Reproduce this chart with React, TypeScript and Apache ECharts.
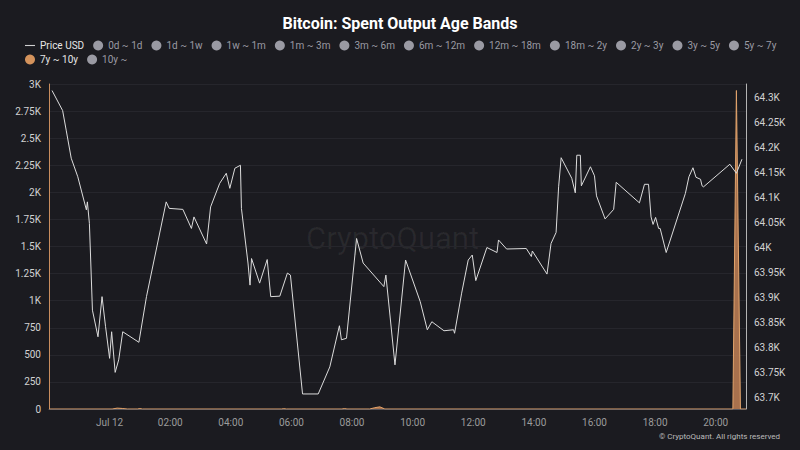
import React, { useEffect, useRef } from "react";
import * as echarts from "echarts";

const TITLE = "Bitcoin: Spent Output Age Bands";
const CREDIT = "© CryptoQuant. All rights reserved";
const WATERMARK = "CryptoQuant";

const bandNames = [
  "0d ~ 1d", "1d ~ 1w", "1w ~ 1m", "1m ~ 3m", "3m ~ 6m", "6m ~ 12m",
  "12m ~ 18m", "18m ~ 2y", "2y ~ 3y", "3y ~ 5y", "5y ~ 7y", "7y ~ 10y", "10y ~",
];
const visibleBand = "7y ~ 10y";

const priceTimes = [
  "2024-07-11 22:06", "2024-07-11 22:27", "2024-07-11 22:34", "2024-07-11 22:44", "2024-07-11 22:57",
  "2024-07-11 23:14", "2024-07-11 23:16", "2024-07-11 23:20", "2024-07-11 23:26", "2024-07-11 23:37",
  "2024-07-11 23:45", "2024-07-11 23:52", "2024-07-12 00:00", "2024-07-12 00:04", "2024-07-12 00:11",
  "2024-07-12 00:18", "2024-07-12 00:26", "2024-07-12 00:58", "2024-07-12 01:13", "2024-07-12 01:52",
  "2024-07-12 01:58", "2024-07-12 02:25", "2024-07-12 02:42", "2024-07-12 02:47", "2024-07-12 03:12",
  "2024-07-12 03:20", "2024-07-12 03:38", "2024-07-12 03:51", "2024-07-12 03:58", "2024-07-12 04:08",
  "2024-07-12 04:19", "2024-07-12 04:21", "2024-07-12 04:34", "2024-07-12 04:38", "2024-07-12 04:41",
  "2024-07-12 04:57", "2024-07-12 05:12", "2024-07-12 05:19", "2024-07-12 05:37", "2024-07-12 05:52",
  "2024-07-12 05:58", "2024-07-12 06:22", "2024-07-12 06:53", "2024-07-12 07:16", "2024-07-12 07:35",
  "2024-07-12 07:39", "2024-07-12 07:49", "2024-07-12 08:09", "2024-07-12 08:22", "2024-07-12 09:03",
  "2024-07-12 09:07", "2024-07-12 09:25", "2024-07-12 09:46", "2024-07-12 10:15", "2024-07-12 10:29",
  "2024-07-12 10:38", "2024-07-12 11:02", "2024-07-12 11:21", "2024-07-12 11:23", "2024-07-12 11:37",
  "2024-07-12 11:50", "2024-07-12 11:58", "2024-07-12 12:05", "2024-07-12 12:27", "2024-07-12 12:47",
  "2024-07-12 12:50", "2024-07-12 13:06", "2024-07-12 13:45", "2024-07-12 13:55", "2024-07-12 13:57",
  "2024-07-12 14:26", "2024-07-12 14:34", "2024-07-12 14:44", "2024-07-12 14:49", "2024-07-12 14:54",
  "2024-07-12 15:15", "2024-07-12 15:22", "2024-07-12 15:25", "2024-07-12 15:32", "2024-07-12 15:34",
  "2024-07-12 15:52", "2024-07-12 16:00", "2024-07-12 16:04", "2024-07-12 16:21", "2024-07-12 16:38",
  "2024-07-12 16:43", "2024-07-12 17:29", "2024-07-12 17:39", "2024-07-12 17:47", "2024-07-12 17:52",
  "2024-07-12 17:56", "2024-07-12 18:01", "2024-07-12 18:07", "2024-07-12 18:10", "2024-07-12 18:22",
  "2024-07-12 19:00", "2024-07-12 19:07", "2024-07-12 19:15", "2024-07-12 19:21", "2024-07-12 19:30",
  "2024-07-12 19:33", "2024-07-12 19:36", "2024-07-12 20:28", "2024-07-12 20:41", "2024-07-12 20:52",
];
const priceValues = [
  64313, 64273, 64234, 64178, 64141,
  64075, 64091, 64048, 63875, 63822,
  63902, 63842, 63779, 63832, 63751,
  63776, 63832, 63811, 63902, 64091,
  64078, 64076, 64038, 64061, 64007,
  64081, 64128, 64148, 64118, 64158,
  64164, 64078, 63969, 63925, 63978,
  63929, 63976, 63902, 63903, 63949,
  63945, 63708, 63708, 63762, 63844,
  63816, 63819, 64018, 63969, 63922,
  63945, 63766, 63975, 63892, 63836,
  63852, 63834, 63836, 63829, 63909,
  63975, 63985, 63934, 64000, 63990,
  64015, 63997, 63998, 63982, 63993,
  63947, 64008, 64030, 64121, 64179,
  64138, 64109, 64184, 64184, 64123,
  64161, 64143, 64103, 64057, 64076,
  64130, 64089, 64126, 64126, 64061,
  64046, 64060, 64038, 64038, 63990,
  64108, 64141, 64159, 64140, 64136,
  64123, 64121, 64166, 64148, 64176,
];

const bandTimes = [
  "2024-07-11 22:00", "2024-07-12 00:05", "2024-07-12 00:15", "2024-07-12 00:25", "2024-07-12 00:35",
  "2024-07-12 00:55", "2024-07-12 01:00", "2024-07-12 01:05", "2024-07-12 05:40", "2024-07-12 05:45",
  "2024-07-12 05:50", "2024-07-12 07:40", "2024-07-12 07:45", "2024-07-12 07:50", "2024-07-12 08:35",
  "2024-07-12 08:45", "2024-07-12 08:55", "2024-07-12 09:05", "2024-07-12 20:34", "2024-07-12 20:41",
  "2024-07-12 20:49", "2024-07-12 21:00",
];
const bandValues = [
  0, 0, 8, 5, 0,
  0, 4, 0, 0, 3,
  0, 0, 4, 0, 0,
  12, 20, 0, 0, 2940,
  0, 0,
];

const X_MIN = "2024-07-11 22:00";
const X_MAX = "2024-07-12 21:00";
const X_STEP_HOURS = 2;
const MONTHS = ["Jan", "Feb", "Mar", "Apr", "May", "Jun", "Jul", "Aug", "Sep", "Oct", "Nov", "Dec"];

const pad = (n: number) => (n < 10 ? "0" + n : "" + n);
const ts = (s: string) => new Date(s.replace(" ", "T") + ":00").getTime();

export default function App() {
  const ref = useRef<HTMLDivElement>(null);
  useEffect(() => {
    if (!ref.current) return;
    const chart = echarts.init(ref.current, undefined, { renderer: "svg" });
    const xMin = ts(X_MIN);
    const xMax = ts(X_MAX);
    const step = X_STEP_HOURS * 3600 * 1000;
    const priceData = priceTimes.map((t, i) => [ts(t), priceValues[i]]);
    const bandData = bandTimes.map((t, i) => [ts(t), bandValues[i]]);
    const selected: Record<string, boolean> = { "Price USD": true };
    bandNames.forEach((n) => (selected[n] = n === visibleBand));

    const series: any[] = [
      {
        name: "Price USD",
        type: "line",
        yAxisIndex: 1,
        data: priceData,
        symbol: "none",
        lineStyle: { color: "#dcdcdc", width: 1 },
        itemStyle: { color: "#dcdcdc" },
        z: 4,
      },
    ];
    bandNames.forEach((n) => {
      if (n === visibleBand) {
        series.push({
          name: n,
          type: "line",
          yAxisIndex: 0,
          data: bandData,
          symbol: "none",
          lineStyle: { color: "#e2a46c", width: 1 },
          itemStyle: { color: "#d4935c" },
          areaStyle: { color: "#b07650", opacity: 0.95 },
          z: 3,
        });
      } else {
        series.push({
          name: n,
          type: "line",
          yAxisIndex: 0,
          data: [],
          symbol: "none",
          itemStyle: { color: "#888" },
        });
      }
    });

    chart.setOption({
      animation: false,
      backgroundColor: "#1b1b20",
      textStyle: { fontFamily: "Roboto, sans-serif" },
      title: {
        text: TITLE,
        left: "center",
        top: 10,
        textStyle: { color: "#ffffff", fontSize: 16, fontWeight: "bold", fontFamily: "Roboto, sans-serif" },
      },
      legend: {
        left: 20,
        right: 16,
        top: 35,
        itemWidth: 10,
        itemHeight: 10,
        itemGap: 3,
        inactiveColor: "#9a9aa3",
        selected,
        textStyle: { color: "#e6e6e6", fontSize: 10, lineHeight: 11, padding: [0, 6, 0, 0] },
        data: [
          { name: "Price USD", icon: "path://M0,0 H10 V1.1 H0 Z", itemStyle: { color: "#d0d0d0" } },
          ...bandNames.map((n) => ({ name: n, icon: "circle" })),
        ],
      },
      grid: { left: 49, right: 54, top: 84, bottom: 41 },
      xAxis: {
        type: "value",
        min: xMin,
        max: xMax,
        interval: step,
        axisLine: { show: true, lineStyle: { color: "#55555c" } },
        axisTick: { show: false },
        splitLine: { show: false },
        axisLabel: {
          color: "#9c9c9c",
          fontSize: 10,
          margin: 8,
          formatter: (v: number) => {
            if (v <= xMin || v >= xMax || (v - xMin) % step !== 0) return "";
            const d = new Date(v);
            if (d.getHours() === 0 && d.getMinutes() === 0) return MONTHS[d.getMonth()] + " " + d.getDate();
            return pad(d.getHours()) + ":" + pad(d.getMinutes());
          },
        },
      },
      yAxis: [
        {
          type: "value",
          position: "left",
          min: 0,
          max: 3000,
          interval: 250,
          axisLine: { show: true, lineStyle: { color: "#c98d5e" } },
          axisTick: { show: false },
          axisLabel: {
            color: "#d2d2d2",
            fontSize: 10,
            margin: 8,
            formatter: (v: number) => (v >= 1000 ? v / 1000 + "K" : "" + v),
          },
          splitLine: { lineStyle: { color: "#26262c" } },
        },
        {
          type: "value",
          position: "right",
          min: 63678,
          max: 64326,
          splitNumber: 13,
          axisLine: { show: true, lineStyle: { color: "#b4b4b4" } },
          axisTick: { show: false },
          axisLabel: {
            color: "#d2d2d2",
            fontSize: 10,
            margin: 8,
            showMinLabel: false,
            showMaxLabel: false,
            formatter: (v: number) => v / 1000 + "K",
          },
          splitLine: { show: false },
        },
      ],
      graphic: [
        {
          type: "text",
          left: 306,
          top: 223,
          z: 0,
          style: { text: WATERMARK, fontSize: 31, fill: "rgba(255,255,255,0.06)", fontFamily: "Roboto, sans-serif" },
        },
        {
          type: "text",
          right: 20,
          top: 432,
          style: { text: CREDIT, fontSize: 8, fill: "#bcbcbc", fontFamily: "Roboto, sans-serif" },
        },
      ],
      series,
    });
    return () => chart.dispose();
  }, []);
  return <div ref={ref} style={{ position: "fixed", left: 0, top: 0, width: 800, height: 450 }} />;
}
